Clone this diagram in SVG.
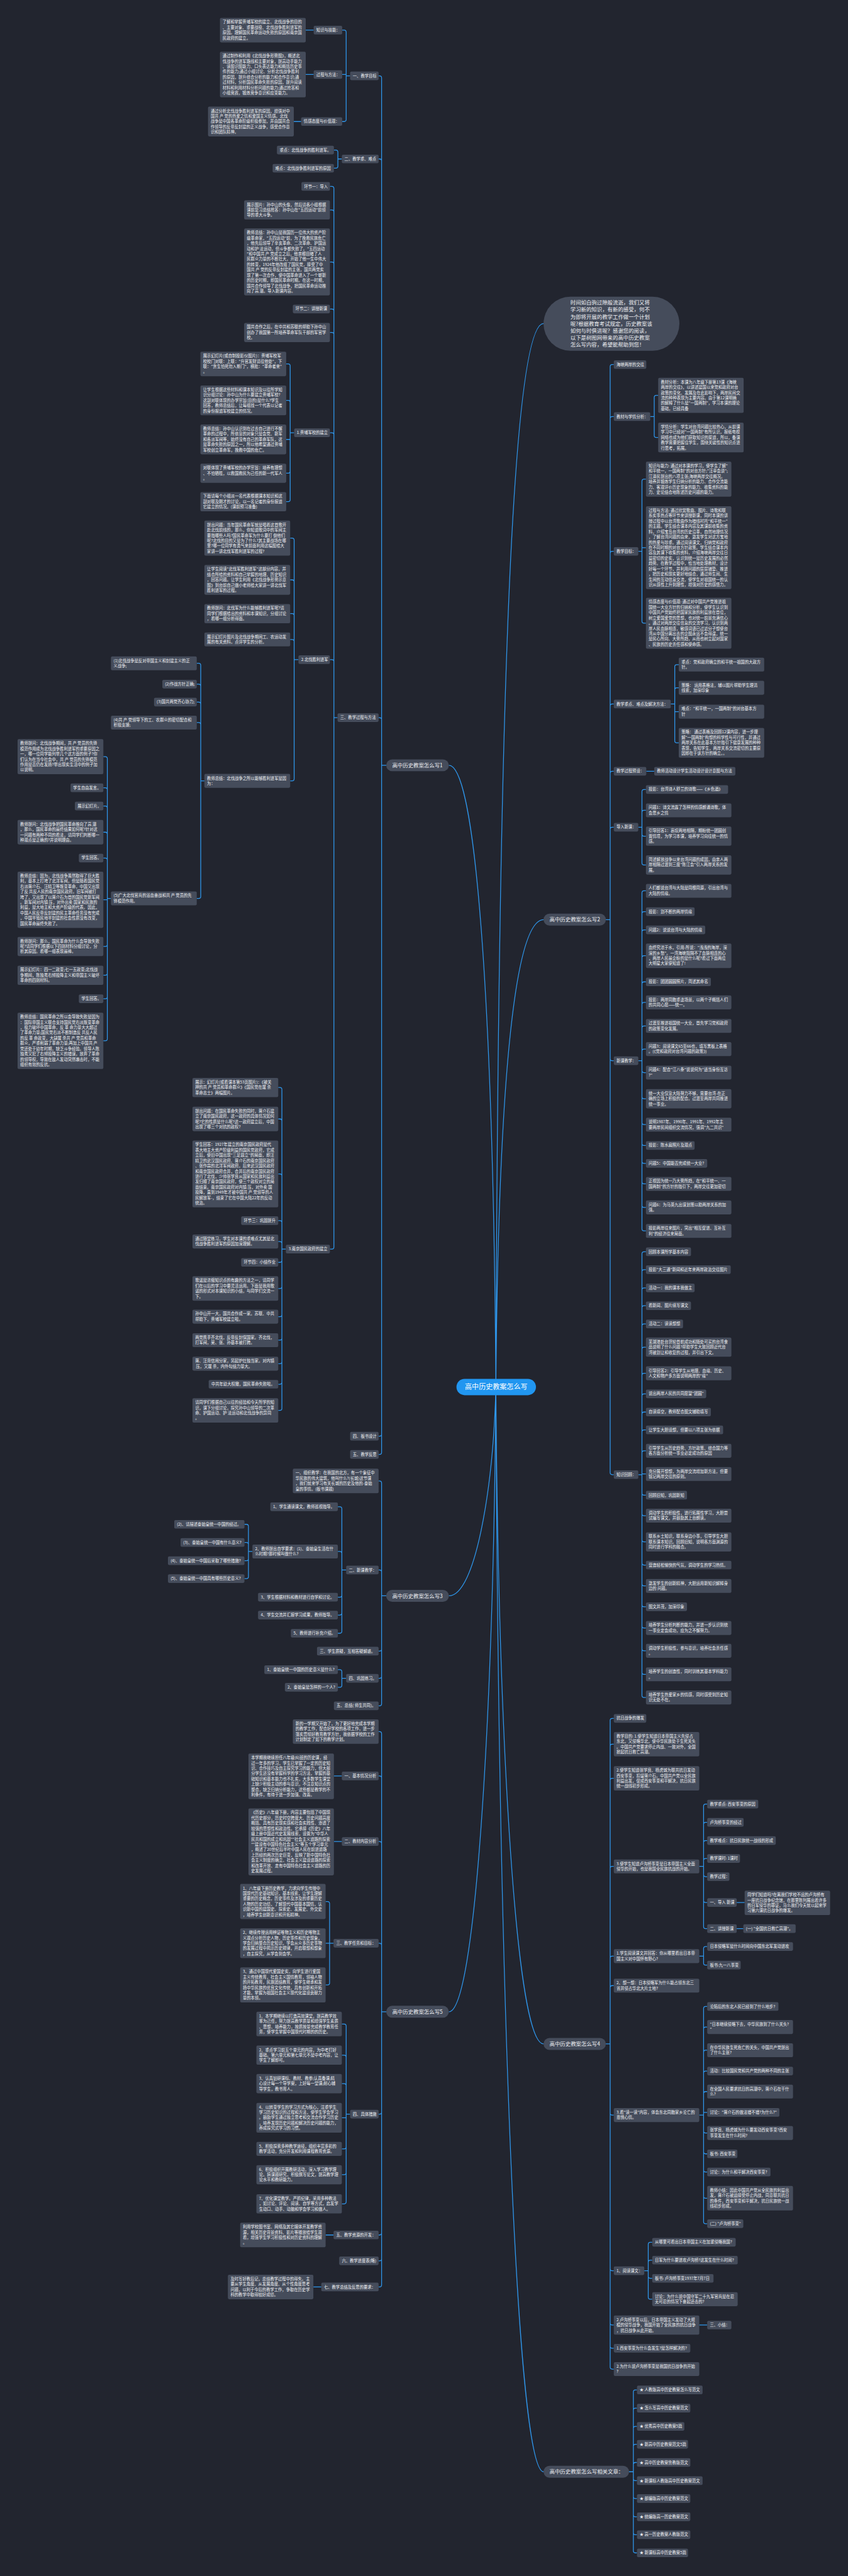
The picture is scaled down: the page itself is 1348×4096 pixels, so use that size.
<svg xmlns="http://www.w3.org/2000/svg" width="1348" height="4096" viewBox="0 0 1348 4096">
<style>
.b{fill:#454c5b}
.t{font-family:"Noto Sans CJK SC","Noto Sans",sans-serif;font-size:12px;fill:#f0f1f4}
.h{font-size:16px}
.e{fill:none;stroke:#2f97ec;stroke-width:2.4}
</style>
<rect x="0" y="0" width="1348" height="4096" fill="#22252f"/>
<g transform="scale(0.52656)">
<g id="connectors" class="e">
<path d="M1497 4189C1505 1800 1560 977 1641 977M1497 4189C1505 3200 1560 2777 1641 2777M1497 4189C1505 5300 1560 6172 1641 6172M1497 4189C1505 6000 1560 7464 1641 7464M1497 4189C1489 3000 1434 2311 1355 2311M1497 4189C1489 4500 1434 4819 1355 4819M1497 4189C1489 5200 1434 6075 1355 6075"/>
<path d="M1166 2311H1152M1152 2311V235Q1152 229 1146 229H1143M1152 2311V486Q1152 480 1146 480H1143M1152 2311V2173Q1152 2167 1146 2167H1143M1152 2311V4331Q1152 4337 1146 4337H1143M1152 2311V4386Q1152 4392 1146 4392H1143"/>
<path d="M1057 229H1045M1045 229V97Q1045 91 1039 91H1033M1045 229V225H1033M1045 229V361Q1045 367 1039 367H1033M947 91H923M947 225H923M909 367H887"/>
<path d="M1032 480H1020M1020 480V459Q1020 453 1014 453H1008M1020 480V502Q1020 508 1014 508H1008"/>
<path d="M1019 2167H1008M1008 2167V569Q1008 563 1002 563H996M1008 2167V640Q1008 634 1002 634H996M1008 2167V797Q1008 791 1002 791H996M1008 2167V939Q1008 933 1002 933H996M1008 2167V1010Q1008 1004 1002 1004H996M1008 2167V1313Q1008 1307 1002 1307H996M1008 2167V1998Q1008 1992 1002 1992H996M1008 2167V3766Q1008 3772 1002 3772H996"/>
<path d="M888 1307H876M876 1307V1105Q876 1099 870 1099H864M876 1307V1215Q876 1209 870 1209H864M876 1307V1327H864M876 1307V1423Q876 1429 870 1429H864M876 1307V1509Q876 1515 870 1515H864"/>
<path d="M901 1992H888M888 1992V1631Q888 1625 882 1625H876M888 1992V1757Q888 1751 882 1751H876M888 1992V1859Q888 1853 882 1853H876M888 1992V1937Q888 1931 882 1931H876M888 1992V2352Q888 2358 882 2358H876"/>
<path d="M617 2358H606M606 2358V2009Q606 2003 600 2003H594M606 2358V2072Q606 2066 600 2066H594M606 2358V2126Q606 2120 600 2120H594M606 2358V2188Q606 2182 600 2182H594M606 2358V2707Q606 2713 600 2713H594"/>
<path d="M335 2713H324M324 2713V2291Q324 2285 318 2285H312M324 2713V2385Q324 2379 318 2379H312M324 2713V2440Q324 2434 318 2434H312M324 2713V2519Q324 2513 318 2513H312M324 2713V2597Q324 2591 318 2591H312M324 2713V2717H312M324 2713V2852Q324 2858 318 2858H312M324 2713V2939Q324 2945 318 2945H312M324 2713V3010Q324 3016 318 3016H312M324 2713V3137Q324 3143 318 3143H312"/>
<path d="M863 3772H851M851 3772V3290Q851 3284 845 3284H840M851 3772V3385Q851 3379 845 3379H840M851 3772V3551Q851 3545 845 3545H840M851 3772V3692Q851 3686 845 3686H840M851 3772V3755Q851 3749 845 3749H840M851 3772V3806Q851 3812 845 3812H840M851 3772V3885Q851 3891 845 3891H840M851 3772V3970Q851 3976 845 3976H840M851 3772V4041Q851 4047 845 4047H840M851 3772V4112Q851 4118 845 4118H840M851 3772V4174Q851 4180 845 4180H840M851 3772V4253Q851 4259 845 4259H840"/>
<path d="M1166 4819H1152M1152 4819V4478Q1152 4472 1146 4472H1143M1152 4819V4747Q1152 4741 1146 4741H1143M1152 4819V4980Q1152 4986 1146 4986H1143M1152 4819V5062Q1152 5068 1146 5068H1143M1152 4819V5145Q1152 5151 1146 5151H1143"/>
<path d="M1045 4741H1032M1032 4741V4556Q1032 4550 1026 4550H1020M1032 4741V4691Q1032 4685 1026 4685H1020M1032 4741V4817Q1032 4823 1026 4823H1020M1032 4741V4871Q1032 4877 1026 4877H1020M1032 4741V4926Q1032 4932 1026 4932H1020"/>
<path d="M762 4685H750M750 4685V4609Q750 4603 744 4603H738M750 4685V4664Q750 4658 744 4658H738M750 4685V4707Q750 4713 744 4713H738M750 4685V4761Q750 4767 744 4767H738"/>
<path d="M1045 5068H1032M1032 5068V5048Q1032 5042 1026 5042H1020M1032 5068V5089Q1032 5095 1026 5095H1020"/>
<path d="M1166 6075H1152M1152 6075V5235Q1152 5229 1146 5229H1143M1152 6075V5369Q1152 5363 1146 5363H1143M1152 6075V5567Q1152 5561 1146 5561H1143M1152 6075V5874Q1152 5868 1146 5868H1143M1152 6075V6378Q1152 6384 1146 6384H1143M1152 6075V6743Q1152 6749 1146 6749H1143M1152 6075V6821Q1152 6827 1146 6827H1143M1152 6075V6900Q1152 6906 1146 6906H1143M1032 5363H1008M1032 5561H1008M1007 6749H983M970 6906H946"/>
<path d="M1007 5868H995M995 5868V5748Q995 5742 989 5742H983M995 5868H983M995 5868V5988Q995 5994 989 5994H983"/>
<path d="M1057 6384H1045M1045 6384V6118Q1045 6112 1039 6112H1032M1045 6384V6212Q1045 6206 1039 6206H1032M1045 6384V6298Q1045 6292 1039 6292H1032M1045 6384V6395H1032M1045 6384V6483Q1045 6489 1039 6489H1032M1045 6384V6561Q1045 6567 1039 6567H1032M1045 6384V6649Q1045 6655 1039 6655H1032"/>
<path d="M1829 2777H1842M1842 2777V1107Q1842 1101 1848 1101H1853M1842 2777V1264Q1842 1258 1848 1258H1853M1842 2777V1671Q1842 1665 1848 1665H1853M1842 2777V2132Q1842 2126 1848 2126H1853M1842 2777V2335Q1842 2329 1848 2329H1853M1842 2777V2504Q1842 2498 1848 2498H1853M1842 2777V3197Q1842 3203 1848 3203H1853M1842 2777V4447Q1842 4453 1848 4453H1853"/>
<path d="M1963 1258H1975M1975 1258V1200Q1975 1194 1981 1194H1987M1975 1258V1315Q1975 1321 1981 1321H1987"/>
<path d="M1927 1665H1938M1938 1665V1453Q1938 1447 1944 1447H1950M1938 1665V1654H1950M1938 1665V1876Q1938 1882 1944 1882H1950"/>
<path d="M2025 2126H2037M2037 2126V2013Q2037 2007 2043 2007H2049M2037 2126V2083Q2037 2077 2043 2077H2049M2037 2126V2149H2049M2037 2126V2237Q2037 2243 2043 2243H2049M1951 2329H1975"/>
<path d="M1927 2498H1938M1938 2498V2390Q1938 2384 1944 2384H1950M1938 2498V2453Q1938 2447 1944 2447H1950M1938 2498V2519Q1938 2525 1944 2525H1950M1938 2498V2606Q1938 2612 1944 2612H1950"/>
<path d="M1927 3203H1938M1938 3203V2696Q1938 2690 1944 2690H1950M1938 3203V2759Q1938 2753 1944 2753H1950M1938 3203V2814Q1938 2808 1944 2808H1950M1938 3203V2892Q1938 2886 1944 2886H1950M1938 3203V2971Q1938 2965 1944 2965H1950M1938 3203V3033Q1938 3027 1944 3027H1950M1938 3203V3104Q1938 3098 1944 3098H1950M1938 3203V3174Q1938 3168 1944 3168H1950M1938 3203V3233Q1938 3239 1944 3239H1950M1938 3203V3312Q1938 3318 1944 3318H1950M1938 3203V3390Q1938 3396 1944 3396H1950M1938 3203V3453Q1938 3459 1944 3459H1950M1938 3203V3507Q1938 3513 1944 3513H1950M1938 3203V3569Q1938 3575 1944 3575H1950M1938 3203V3640Q1938 3646 1944 3646H1950M1938 3203V3711Q1938 3717 1944 3717H1950"/>
<path d="M1927 4453H1938M1938 4453V3786Q1938 3780 1944 3780H1950M1938 4453V3840Q1938 3834 1944 3834H1950M1938 4453V3895Q1938 3889 1944 3889H1950M1938 4453V3949Q1938 3943 1944 3943H1950M1938 4453V4004Q1938 3998 1944 3998H1950M1938 4453V4074Q1938 4068 1944 4068H1950M1938 4453V4153Q1938 4147 1944 4147H1950M1938 4453V4215Q1938 4209 1944 4209H1950M1938 4453V4270Q1938 4264 1944 4264H1950M1938 4453V4324Q1938 4318 1944 4318H1950M1938 4453V4387Q1938 4381 1944 4381H1950M1938 4453V4451H1950M1938 4453V4509Q1938 4515 1944 4515H1950M1938 4453V4571Q1938 4577 1944 4577H1950M1938 4453V4650Q1938 4656 1944 4656H1950M1938 4453V4720Q1938 4726 1944 4726H1950M1938 4453V4783Q1938 4789 1944 4789H1950M1938 4453V4846Q1938 4852 1944 4852H1950M1938 4453V4910Q1938 4916 1944 4916H1950M1938 4453V4979Q1938 4985 1944 4985H1950M1938 4453V5050Q1938 5056 1944 5056H1950M1938 4453V5120Q1938 5126 1944 5126H1950"/>
<path d="M1829 6172H1842M1842 6172V5195Q1842 5189 1848 5189H1853M1842 6172V5273Q1842 5267 1848 5267H1853M1842 6172V5376Q1842 5370 1848 5370H1853M1842 6172V5642Q1842 5636 1848 5636H1853M1842 6172V5913Q1842 5907 1848 5907H1853M1842 6172V6002Q1842 5996 1848 5996H1853M1842 6172V6381Q1842 6387 1848 6387H1853M1842 6172V6851Q1842 6857 1848 6857H1853M1842 6172V7015Q1842 7021 1848 7021H1853M1842 6172V7085Q1842 7091 1848 7091H1853M1842 6172V7148Q1842 7154 1848 7154H1853"/>
<path d="M2111 5636H2124M2124 5636V5454Q2124 5448 2130 5448H2135M2124 5636V5509Q2124 5503 2130 5503H2135M2124 5636V5564Q2124 5558 2130 5558H2135M2124 5636V5618Q2124 5612 2130 5612H2135M2124 5636V5661Q2124 5667 2130 5667H2135M2124 5636V5739Q2124 5745 2130 5745H2135M2124 5636V5818Q2124 5824 2130 5824H2135M2224 5745H2248M2224 5824H2244"/>
<path d="M2111 5907H2124M2124 5907V5884Q2124 5878 2130 5878H2135M2124 5907V5928Q2124 5934 2130 5934H2135"/>
<path d="M2111 6387H2124M2124 6387V6065Q2124 6059 2130 6059H2135M2124 6387V6127Q2124 6121 2130 6121H2135M2124 6387V6197Q2124 6191 2130 6191H2135M2124 6387V6260Q2124 6254 2130 6254H2135M2124 6387V6322Q2124 6316 2130 6316H2135M2124 6387V6379H2135M2124 6387V6435Q2124 6441 2130 6441H2135M2124 6387V6498Q2124 6504 2130 6504H2135M2124 6387V6553Q2124 6559 2130 6559H2135M2124 6387V6632Q2124 6638 2130 6638H2135M2124 6387V6709Q2124 6715 2130 6715H2135"/>
<path d="M1945 6857H1957M1957 6857V6777Q1957 6771 1963 6771H1969M1957 6857V6831Q1957 6825 1963 6825H1969M1957 6857V6874Q1957 6880 1963 6880H1969M1957 6857V6937Q1957 6943 1963 6943H1969M2111 7021H2135"/>
<path d="M1899 7464H1912M1912 7464V7223Q1912 7217 1918 7217H1923M1912 7464V7278Q1912 7272 1918 7272H1923M1912 7464V7333Q1912 7327 1918 7327H1923M1912 7464V7387Q1912 7381 1918 7381H1923M1912 7464V7442Q1912 7436 1918 7436H1923M1912 7464V7485Q1912 7491 1918 7491H1923M1912 7464V7539Q1912 7545 1918 7545H1923M1912 7464V7594Q1912 7600 1918 7600H1923M1912 7464V7648Q1912 7654 1918 7654H1923M1912 7464V7703Q1912 7709 1918 7709H1923"/>
</g>

<g id="center"><rect x="1378" y="4164" width="240" height="49" rx="24.5" fill="#2196f0"/><text class="t" x="1498" y="4196" text-anchor="middle" fill="#ffffff" style="font-size:21px;fill:#ffffff">高中历史教案怎么写</text></g>

<g id="intro"><rect class="b" x="1641" y="896" width="410" height="163" rx="81"/><text class="t h" x="1722" y="920">时间如白驹过隙般流逝，我们又将<tspan x="1722" dy="21">学习新的知识，有新的感受，何不</tspan><tspan x="1722" dy="21">为即将开展的教学工作做一个计划</tspan><tspan x="1722" dy="21">呢?根据教育考试规定，历史教案该</tspan><tspan x="1722" dy="21">如何与时俱进呢？感谢您的阅读，</tspan><tspan x="1722" dy="21">以下是树图网带来的高中历史教案</tspan><tspan x="1722" dy="21">怎么写内容，希望能帮助到您！</tspan></text></g>

<!-- LEFT 1 -->
<g id="n-l1"><rect class="b" x="1166" y="2293" width="189" height="36" rx="18"/><text class="t h" x="1184" y="2317">高中历史教案怎么写1</text></g>
<g id="n-a1"><rect class="b" x="1057" y="216" width="86" height="26" rx="4"/><text class="t" x="1065" y="233">一、教学目标</text></g>
<g id="n-a1a"><rect class="b" x="947" y="78" width="86" height="26" rx="4"/><text class="t" x="955" y="95">知识与技能：</text></g>
<g id="n-a1a1"><rect class="b" x="664" y="54" width="259" height="74" rx="4"/><text class="t" x="672" y="71">了解和掌握黄埔军校的建立、北伐战争的目的<tspan x="672" dy="16">、主要对象、重要战役、北伐战争胜利进军的</tspan><tspan x="672" dy="16">原因。理解国民革命运动失败的原因和南京国</tspan><tspan x="672" dy="16">民政府的建立。</tspan></text></g>
<g id="n-a1b"><rect class="b" x="947" y="212" width="86" height="26" rx="4"/><text class="t" x="955" y="229">过程与方法：</text></g>
<g id="n-a1b1"><rect class="b" x="664" y="156" width="259" height="138" rx="4"/><text class="t" x="672" y="173">通过制作和利用《北伐战争形势图》，概述北<tspan x="672" dy="16">伐战争的进军路线和主要对象，提高动手能力</tspan><tspan x="672" dy="16">、读图识图能力、口头表达能力和概括历史事</tspan><tspan x="672" dy="16">件的能力;通过小组讨论、分析北伐战争胜利</tspan><tspan x="672" dy="16">的原因，提升综合分析的能力和合作意识;通</tspan><tspan x="672" dy="16">过材料，分析国民革命失败的原因，提升阅读</tspan><tspan x="672" dy="16">材料和利用材料分析问题的能力;通过抢答和</tspan><tspan x="672" dy="16">小组竞赛，锻炼竞争意识和应变能力。</tspan></text></g>
<g id="n-a1c"><rect class="b" x="909" y="354" width="124" height="26" rx="4"/><text class="t" x="917" y="371">情感态度与价值观：</text></g>
<g id="n-a1c1"><rect class="b" x="628" y="322" width="259" height="90" rx="4"/><text class="t" x="636" y="339">通过分析北伐战争胜利进军的原因，增强对中<tspan x="636" dy="16">国共 产 党的热爱之情和爱国主义情感。北伐</tspan><tspan x="636" dy="16">战争是中国各革命阶级积极参加，并由国共合</tspan><tspan x="636" dy="16">作领导的反帝反封建的正义战争，感受合作意</tspan><tspan x="636" dy="16">识和团队精神。</tspan></text></g>
<g id="n-a2"><rect class="b" x="1032" y="467" width="111" height="26" rx="4"/><text class="t" x="1040" y="484">二、教学重、难点</text></g>
<g id="n-a2a"><rect class="b" x="836" y="440" width="172" height="26" rx="4"/><text class="t" x="844" y="457">重点：北伐战争的胜利进军。</text></g>
<g id="n-a2b"><rect class="b" x="823" y="495" width="185" height="26" rx="4"/><text class="t" x="831" y="512">难点：北伐战争胜利进军的原因</text></g>
<g id="n-a3"><rect class="b" x="1019" y="2154" width="124" height="26" rx="4"/><text class="t" x="1027" y="2171">三、教学过程与方法</text></g>
<g id="n-a3a"><rect class="b" x="910" y="550" width="86" height="26" rx="4"/><text class="t" x="918" y="567">环节一：导入</text></g>
<g id="n-a3b"><rect class="b" x="737" y="605" width="259" height="58" rx="4"/><text class="t" x="745" y="622">展示图片：孙中山的头像，然后请各小组根据<tspan x="745" dy="16">课前复习总结抢答：孙中山在"五四运动"前领</tspan><tspan x="745" dy="16">导的重大斗争。</tspan></text></g>
<g id="n-a3c"><rect class="b" x="737" y="690" width="259" height="202" rx="4"/><text class="t" x="745" y="707">教师总结：孙中山是我国历一位伟大的资产阶<tspan x="745" dy="16">级革命家，"五四运动"前，为了挽救民族危亡</tspan><tspan x="745" dy="16">，他先后领导了辛亥革命、二次革命、护国运</tspan><tspan x="745" dy="16">动和护 法运动，但斗争都失败了。"五四运动</tspan><tspan x="745" dy="16">"和中国共 产 党成立之后，他亲眼目睹了人</tspan><tspan x="745" dy="16">民群众力量的不断壮大，开始了他一生中伟大</tspan><tspan x="745" dy="16">的转变，1924年他改组了国民党，接受了中</tspan><tspan x="745" dy="16">国共 产 党的反帝反封建的主张，国共两党实</tspan><tspan x="745" dy="16">现了第一次合作，使中国革命进入了一个崭新</tspan><tspan x="745" dy="16">的历史时期，即国民革命时期。在这一时期，</tspan><tspan x="745" dy="16">国共合作领导了北伐战争，把国民革命运动推</tspan><tspan x="745" dy="16">向了高 潮。导入新课内容。</tspan></text></g>
<g id="n-a3d"><rect class="b" x="884" y="920" width="112" height="26" rx="4"/><text class="t" x="892" y="937">环节二：讲授新课</text></g>
<g id="n-a3e"><rect class="b" x="737" y="975" width="259" height="58" rx="4"/><text class="t" x="745" y="992">国共合作之后，在中共和苏联的帮助下孙中山<tspan x="745" dy="16">创办了我国第一所培养革命军队干部的军官学</tspan><tspan x="745" dy="16">校。</tspan></text></g>
<g id="n-a3f"><rect class="b" x="888" y="1294" width="108" height="26" rx="4"/><text class="t" x="896" y="1311">1.黄埔军校的建立</text></g>
<g id="n-f1"><rect class="b" x="605" y="1062" width="259" height="74" rx="4"/><text class="t" x="613" y="1079">展示幻灯片(或自制投影仪图片)：黄埔军校军<tspan x="613" dy="16">校校门对联：上联："升官发财请往他处"，下</tspan><tspan x="613" dy="16">联："贪生怕死勿入斯门"，横批："革命者来"</tspan><tspan x="613" dy="16">。</tspan></text></g>
<g id="n-f2"><rect class="b" x="605" y="1164" width="259" height="90" rx="4"/><text class="t" x="613" y="1181">让学生根据这些材料和课本知识及以往所学知<tspan x="613" dy="16">识分组讨论：孙中山为什么要建立黄埔军校?</tspan><tspan x="613" dy="16">这副对联体现的办学宗旨(目的)是什么?学生</tspan><tspan x="613" dy="16">回答，教师总结后，让每组找一个代表以记者</tspan><tspan x="613" dy="16">的身份报道军校建立的情况。</tspan></text></g>
<g id="n-f3"><rect class="b" x="605" y="1282" width="259" height="90" rx="4"/><text class="t" x="613" y="1299">教师总结：孙中山认识到在过去自己进行不懈<tspan x="613" dy="16">革命的过程中，所依靠的对象只是会党、新军</tspan><tspan x="613" dy="16">和各派军阀等，始终没有自己的革命军队，这</tspan><tspan x="613" dy="16">是革命失败的原因之一，所以他希望通过黄埔</tspan><tspan x="613" dy="16">军校创立革命军，挽救中国的危亡。</tspan></text></g>
<g id="n-f4"><rect class="b" x="605" y="1400" width="259" height="58" rx="4"/><text class="t" x="613" y="1417">对联体现了黄埔军校的办学宗旨：培养有理想<tspan x="613" dy="16">、不怕牺牲，以救国救民为己任的新一代军人</tspan><tspan x="613" dy="16">。</tspan></text></g>
<g id="n-f5"><rect class="b" x="605" y="1486" width="259" height="58" rx="4"/><text class="t" x="613" y="1503">下面请每个小组派一名代表根据课本知识和这<tspan x="613" dy="16">副对联及刚才的讨论，以一名记者的身份报道</tspan><tspan x="613" dy="16">它建立的情况。(课前预习准备)</tspan></text></g>
<g id="n-a3g"><rect class="b" x="901" y="1979" width="95" height="26" rx="4"/><text class="t" x="909" y="1996">2.北伐胜利进军</text></g>
<g id="n-g1"><rect class="b" x="617" y="1572" width="259" height="106" rx="4"/><text class="t" x="625" y="1589">提出问题：当年国民革命军就是唱着这首歌开<tspan x="625" dy="16">赴北伐前线的，那么，你知道歌词中的军阀主</tspan><tspan x="625" dy="16">要指哪些人吗?国民革命军为什么要打 倒他们</tspan><tspan x="625" dy="16">呢?北伐的目的又是为了什么?其主要战场在哪</tspan><tspan x="625" dy="16">里?哪一位同学有勇气来前面利用这幅图给大</tspan><tspan x="625" dy="16">家讲一讲北伐军胜利进军的过程?</tspan></text></g>
<g id="n-g2"><rect class="b" x="617" y="1706" width="259" height="90" rx="4"/><text class="t" x="625" y="1723">让学生阅读"北伐军胜利进军"这部分内容，并<tspan x="625" dy="16">结合所给的资料和自己掌握的地理、历史知识</tspan><tspan x="625" dy="16">，回答问题。让学生利用《北伐战争形势示意</tspan><tspan x="625" dy="16">图》到台前自己做小老师给大家讲一讲北伐军</tspan><tspan x="625" dy="16">胜利进军的过程。</tspan></text></g>
<g id="n-g3"><rect class="b" x="617" y="1824" width="259" height="58" rx="4"/><text class="t" x="625" y="1841">教师提问：北伐军为什么能够胜利进军呢?请<tspan x="625" dy="16">同学们根据给出的资料和本课知识，分组讨论</tspan><tspan x="625" dy="16">，看哪一组分析得面。</tspan></text></g>
<g id="n-g4"><rect class="b" x="617" y="1910" width="259" height="42" rx="4"/><text class="t" x="625" y="1927">展示幻灯片图片及北伐战争期间工、农运动发<tspan x="625" dy="16">展的有关资料。点评学生的分析。</tspan></text></g>
<g id="n-g5"><rect class="b" x="617" y="2337" width="259" height="42" rx="4"/><text class="t" x="625" y="2354">教师总结：北伐战争之所以能够胜利进军是因<tspan x="625" dy="16">为：</tspan></text></g>
<g id="n-h1"><rect class="b" x="335" y="1982" width="259" height="42" rx="4"/><text class="t" x="343" y="1999">(1)北伐战争是反对帝国主义和封建主义的正<tspan x="343" dy="16">义战争;</tspan></text></g>
<g id="n-h2"><rect class="b" x="490" y="2053" width="104" height="26" rx="4"/><text class="t" x="498" y="2070">(2)作战方针正确;</text></g>
<g id="n-h3"><rect class="b" x="465" y="2107" width="129" height="26" rx="4"/><text class="t" x="473" y="2124">(3)国共两党齐心协力;</text></g>
<g id="n-h4"><rect class="b" x="335" y="2161" width="259" height="42" rx="4"/><text class="t" x="343" y="2178">(4)共 产 党领导下的工、农群众的密切配合和<tspan x="343" dy="16">积极支援;</tspan></text></g>
<g id="n-h5"><rect class="b" x="335" y="2692" width="259" height="42" rx="4"/><text class="t" x="343" y="2709">(5)广大北伐官兵的浴血奋战和共 产 党员的先<tspan x="343" dy="16">锋模范作用。</tspan></text></g>
<g id="n-i1"><rect class="b" x="53" y="2232" width="259" height="106" rx="4"/><text class="t" x="61" y="2249">教师提问：北伐战争期间，共 产 党员的先锋<tspan x="61" dy="16">模范作用成为北伐战争胜利进军的重要原因之</tspan><tspan x="61" dy="16">一，哪一位同学能列举几个这方面的例子?你</tspan><tspan x="61" dy="16">们认为在当今社会中，共 产 党员的先锋模范</tspan><tspan x="61" dy="16">作用是否仍在发扬?举出现实生活中的例子加</tspan><tspan x="61" dy="16">以说明。</tspan></text></g>
<g id="n-i2"><rect class="b" x="213" y="2366" width="99" height="26" rx="4"/><text class="t" x="221" y="2383">学生自由发言。</text></g>
<g id="n-i3"><rect class="b" x="226" y="2421" width="86" height="26" rx="4"/><text class="t" x="234" y="2438">展示幻灯片。</text></g>
<g id="n-i4"><rect class="b" x="53" y="2476" width="259" height="74" rx="4"/><text class="t" x="61" y="2493">教师提问：北伐战争把国民革命推向了高 潮<tspan x="61" dy="16">，那么，国民革命的最终结果如何呢?针对这</tspan><tspan x="61" dy="16">一问题有两种不同的看法，请同学们判断哪一</tspan><tspan x="61" dy="16">种观点是正确的?并说明理由。</tspan></text></g>
<g id="n-i5"><rect class="b" x="238" y="2578" width="74" height="26" rx="4"/><text class="t" x="246" y="2595">学生回答。</text></g>
<g id="n-i6"><rect class="b" x="53" y="2632" width="259" height="170" rx="4"/><text class="t" x="61" y="2649">教师总结：因为，北伐战争虽然取得了巨大胜<tspan x="61" dy="16">利，基本上打垮了北洋军阀，但是随着国民党</tspan><tspan x="61" dy="16">右派蒋介石、汪精卫等叛变革命，中国又出现</tspan><tspan x="61" dy="16">了反 共反人民的南京国民政府。旧军阀被打</tspan><tspan x="61" dy="16">垮了，又出现了以蒋介石为首的国民党新军阀</tspan><tspan x="61" dy="16">。新军阀对内镇 压，对外出卖 国家和民族的</tspan><tspan x="61" dy="16">利益，是大地主和大资产阶级的代表。因此，</tspan><tspan x="61" dy="16">中国人民反帝反封建的民主革命任务没有完成</tspan><tspan x="61" dy="16">，中国半殖民地半封建的社会性质没有改变，</tspan><tspan x="61" dy="16">国民革命最终失败了。</tspan></text></g>
<g id="n-i7"><rect class="b" x="53" y="2829" width="259" height="58" rx="4"/><text class="t" x="61" y="2846">教师提问：那么，国民革命为什么会导致失败<tspan x="61" dy="16">呢?请同学们根据以下四则材料分组讨论，分</tspan><tspan x="61" dy="16">析其原因。看哪一组表现最棒。</tspan></text></g>
<g id="n-i8"><rect class="b" x="53" y="2916" width="259" height="58" rx="4"/><text class="t" x="61" y="2933">展示幻灯片：四一二政变;七一五政变;北伐战<tspan x="61" dy="16">争期间，陈独秀右倾投降主义和帝国主义破坏</tspan><tspan x="61" dy="16">革命的四则材料。</tspan></text></g>
<g id="n-i9"><rect class="b" x="238" y="3003" width="74" height="26" rx="4"/><text class="t" x="246" y="3020">学生回答。</text></g>
<g id="n-i10"><rect class="b" x="53" y="3058" width="259" height="170" rx="4"/><text class="t" x="61" y="3075">教师总结：国民革命之所以会导致失败是因为<tspan x="61" dy="16">：国际帝国主义联合支持国民党右派叛变革命</tspan><tspan x="61" dy="16">，极力破坏中国革命，反 革 命力量大大超过</tspan><tspan x="61" dy="16">了革命力量;国民党右派不断制造反 共反人民</tspan><tspan x="61" dy="16">的反 革 命政变，大肆屠 杀共 产 党员和革命</tspan><tspan x="61" dy="16">群众，严重削弱了革命力量;再加上中国共 产</tspan><tspan x="61" dy="16">党还处于幼年时期，缺乏斗争经验。领导人陈</tspan><tspan x="61" dy="16">独秀又犯了右倾投降主义的错误，放弃了革命</tspan><tspan x="61" dy="16">的领导权，导致在敌人发动突然袭击时，不能</tspan><tspan x="61" dy="16">组织有效的反抗。</tspan></text></g>
<g id="n-a3h"><rect class="b" x="863" y="3759" width="133" height="26" rx="4"/><text class="t" x="871" y="3776">3.南京国民政府的建立</text></g>
<g id="n-j1"><rect class="b" x="581" y="3255" width="259" height="58" rx="4"/><text class="t" x="589" y="3272">展示：幻灯片(或看课本第53页图片)：《被关<tspan x="589" dy="16">押的共 产 党员和革命群众》《国民党在屠 杀</tspan><tspan x="589" dy="16">革命志士》两幅图片。</tspan></text></g>
<g id="n-j2"><rect class="b" x="581" y="3342" width="259" height="74" rx="4"/><text class="t" x="589" y="3359">提出问题：在国民革命失败的同时，蒋介石建<tspan x="589" dy="16">立了南京国民政府，这一政府的具体情况如何</tspan><tspan x="589" dy="16">呢?它的性质是什么呢?这一政府建立后，中国</tspan><tspan x="589" dy="16">出现了哪三个对抗的政权?</tspan></text></g>
<g id="n-j3"><rect class="b" x="581" y="3444" width="259" height="202" rx="4"/><text class="t" x="589" y="3461">学生回答：1927年建立的南京国民政府是代<tspan x="589" dy="16">表大地主大资产阶级利益的国民党政府，它成</tspan><tspan x="589" dy="16">立后，使旧中国出现"三足鼎立"的局面，即汪</tspan><tspan x="589" dy="16">精卫的武汉国民政府、蒋介石的南京国民政府</tspan><tspan x="589" dy="16">、张作霖的北洋军阀政府。后来武汉国民政府</tspan><tspan x="589" dy="16">和南京国民政府合并，合并后的南京国民政府</tspan><tspan x="589" dy="16">进行了北伐，少帅张学良从国家和民族利益出</tspan><tspan x="589" dy="16">发归顺了南京国民政府，使三个政权对立的局</tspan><tspan x="589" dy="16">面结束。南京国民政府对内镇 压，对外卖 国</tspan><tspan x="589" dy="16">投降，直到1949年才被中国共 产 党领导的人</tspan><tspan x="589" dy="16">民解放军-，结束了它在中国大陆22年的反动</tspan><tspan x="589" dy="16">统治。</tspan></text></g>
<g id="n-j4"><rect class="b" x="728" y="3673" width="112" height="26" rx="4"/><text class="t" x="736" y="3690">环节三：巩固提升</text></g>
<g id="n-j5"><rect class="b" x="581" y="3728" width="259" height="42" rx="4"/><text class="t" x="589" y="3745">通过随堂练习，学生对本课的重难点尤其是北<tspan x="589" dy="16">伐战争胜利进军的原因加深理解。</tspan></text></g>
<g id="n-j6"><rect class="b" x="728" y="3799" width="112" height="26" rx="4"/><text class="t" x="736" y="3816">环节四：小结作业</text></g>
<g id="n-j7"><rect class="b" x="581" y="3854" width="259" height="74" rx="4"/><text class="t" x="589" y="3871">歌谣是浓缩知识点的有趣的方法之一，请同学<tspan x="589" dy="16">们在以后的学习中要灵活运用。下面是我用歌</tspan><tspan x="589" dy="16">谣的形式对本课知识的小结，与同学们交流一</tspan><tspan x="589" dy="16">下。</tspan></text></g>
<g id="n-j8"><rect class="b" x="581" y="3955" width="259" height="42" rx="4"/><text class="t" x="589" y="3972">孙中山开一大，国共合作成一家。苏联、中共<tspan x="589" dy="16">帮助下，黄埔军校建立啦。</tspan></text></g>
<g id="n-j9"><rect class="b" x="581" y="4026" width="259" height="42" rx="4"/><text class="t" x="589" y="4043">两党携手齐北伐，反帝反封保国家。齐北伐，<tspan x="589" dy="16">打军阀，吴、张、孙基本被打跨。</tspan></text></g>
<g id="n-j10"><rect class="b" x="581" y="4097" width="259" height="42" rx="4"/><text class="t" x="589" y="4114">蒋、汪背信闹分家，另起炉灶独当家。对内镇<tspan x="589" dy="16"> 压，又屠 杀，内外勾结力量大。</tspan></text></g>
<g id="n-j11"><rect class="b" x="630" y="4167" width="210" height="26" rx="4"/><text class="t" x="638" y="4184">中共年幼大权撤，国民革命失败啦。</text></g>
<g id="n-j12"><rect class="b" x="581" y="4222" width="259" height="74" rx="4"/><text class="t" x="589" y="4239">请同学们根据自己以往的经验和今天所学的知<tspan x="589" dy="16">识，课下分组讨论，探究孙中山领导的二次革</tspan><tspan x="589" dy="16">命、护国运动、护 法运动和北伐战争的异同</tspan><tspan x="589" dy="16">。</tspan></text></g>
<g id="n-a4"><rect class="b" x="1057" y="4324" width="86" height="26" rx="4"/><text class="t" x="1065" y="4341">四、板书设计</text></g>
<g id="n-a5"><rect class="b" x="1057" y="4379" width="86" height="26" rx="4"/><text class="t" x="1065" y="4396">五、教学反思</text></g>

<!-- LEFT 3 -->
<g id="n-l3"><rect class="b" x="1166" y="4801" width="189" height="36" rx="18"/><text class="t h" x="1184" y="4825">高中历史教案怎么写3</text></g>
<g id="n-b1"><rect class="b" x="884" y="4435" width="259" height="74" rx="4"/><text class="t" x="892" y="4452">一、组织教学：在我国的北方，有一个象征中<tspan x="892" dy="16">华民族的伟大建筑，他叫什么?(长城)这节课</tspan><tspan x="892" dy="16">，我们就来学习有关长城的历史及他的-秦始</tspan><tspan x="892" dy="16">皇的事情。(板书课题)</tspan></text></g>
<g id="n-b2"><rect class="b" x="1045" y="4728" width="98" height="26" rx="4"/><text class="t" x="1053" y="4745">二、新课教学：</text></g>
<g id="n-b2a"><rect class="b" x="816" y="4537" width="204" height="26" rx="4"/><text class="t" x="824" y="4554">1、学生通读课文，教师巡视指导。</text></g>
<g id="n-b2b"><rect class="b" x="762" y="4664" width="258" height="42" rx="4"/><text class="t" x="770" y="4681">2、教师提出自学要求：(1)、秦始皇生活在什<tspan x="770" dy="16">么时期?那时候叫做什么?</tspan></text></g>
<g id="n-c1"><rect class="b" x="526" y="4590" width="212" height="26" rx="4"/><text class="t" x="534" y="4607">(2)、请描述秦始皇统一中国的经过。</text></g>
<g id="n-c2"><rect class="b" x="545" y="4645" width="193" height="26" rx="4"/><text class="t" x="553" y="4662">(3)、秦始皇统一中国有什么意义?</text></g>
<g id="n-c3"><rect class="b" x="507" y="4700" width="231" height="26" rx="4"/><text class="t" x="515" y="4717">(4)、秦始皇统一中国后采取了哪些措施?</text></g>
<g id="n-c4"><rect class="b" x="507" y="4754" width="231" height="26" rx="4"/><text class="t" x="515" y="4771">(5)、秦始皇统一中国具有哪些历史意义?</text></g>
<g id="n-b2c"><rect class="b" x="779" y="4810" width="241" height="26" rx="4"/><text class="t" x="787" y="4827">3、学生根据材料和教材进行自学和讨论。</text></g>
<g id="n-b2d"><rect class="b" x="779" y="4864" width="241" height="26" rx="4"/><text class="t" x="787" y="4881">4、学生交流并汇报学习成果，教师指导。</text></g>
<g id="n-b2e"><rect class="b" x="878" y="4919" width="142" height="26" rx="4"/><text class="t" x="886" y="4936">5、教师进行补充介绍。</text></g>
<g id="n-b3"><rect class="b" x="957" y="4973" width="186" height="26" rx="4"/><text class="t" x="965" y="4990">三、学生质疑，互相答疑解惑。</text></g>
<g id="n-b4"><rect class="b" x="1045" y="5055" width="98" height="26" rx="4"/><text class="t" x="1053" y="5072">四、巩固练习。</text></g>
<g id="n-d1"><rect class="b" x="798" y="5029" width="222" height="26" rx="4"/><text class="t" x="806" y="5046">1、秦始皇统一中国的历史意义是什么?</text></g>
<g id="n-d2"><rect class="b" x="860" y="5082" width="160" height="26" rx="4"/><text class="t" x="868" y="5099">2、秦始皇是怎样的一个人?</text></g>
<g id="n-b5"><rect class="b" x="1008" y="5138" width="135" height="26" rx="4"/><text class="t" x="1016" y="5155">五、总结( 师生共同)。</text></g>

<!-- LEFT 5 -->
<g id="n-l5"><rect class="b" x="1166" y="6057" width="189" height="36" rx="18"/><text class="t h" x="1184" y="6081">高中历史教案怎么写5</text></g>
<g id="n-k1"><rect class="b" x="884" y="5192" width="259" height="74" rx="4"/><text class="t" x="892" y="5209">新的一学期又开始了，为了更好地完成本学期<tspan x="892" dy="16">的教学工作，配合好学校的各项工作，进一步</tspan><tspan x="892" dy="16">落实贯彻好教育教学方针，我依据学校的工作</tspan><tspan x="892" dy="16">计划制定了如下的教学计划。</tspan></text></g>
<g id="n-k2"><rect class="b" x="1032" y="5350" width="111" height="26" rx="4"/><text class="t" x="1040" y="5367">一、基本情况分析</text></g>
<g id="n-k2a"><rect class="b" x="750" y="5295" width="258" height="138" rx="4"/><text class="t" x="758" y="5312">本学期我继续担任八年级(6)班的历史课，经<tspan x="758" dy="16">过一年多的学习，学生已掌握了一定的历史知</tspan><tspan x="758" dy="16">识、合作技巧及自主探究学习的能力，但大部</tspan><tspan x="758" dy="16">分学生还没有掌握科学的学习方法，掌握的基</tspan><tspan x="758" dy="16">础知识和基本能力也不扎实，大多数学生课堂</tspan><tspan x="758" dy="16">上缺少积极主动的参与意识，不注意知识点的</tspan><tspan x="758" dy="16">整合，缺乏归纳分析能力，这些都是教学的不</tspan><tspan x="758" dy="16">利条件，有待于进一步加强、改善。</tspan></text></g>
<g id="n-k3"><rect class="b" x="1032" y="5548" width="111" height="26" rx="4"/><text class="t" x="1040" y="5565">二、教材内容分析</text></g>
<g id="n-k3a"><rect class="b" x="750" y="5461" width="258" height="202" rx="4"/><text class="t" x="758" y="5478">《历史》八年级下册，内容主要包括了中国现<tspan x="758" dy="16">代历史部分，历史时空跨度大、历史问题高度</tspan><tspan x="758" dy="16">概括、具有历史现实感和社会实践性、渗透了</tspan><tspan x="758" dy="16">较强的思想性和政治性。它承接《历史》八年</tspan><tspan x="758" dy="16">级上册中国近代史发展线索，设置为"中华人</tspan><tspan x="758" dy="16">民共和国的成立和巩固""社会主义道路的探索</tspan><tspan x="758" dy="16">""建设有中国特色社会主义"等五个学习单元</tspan><tspan x="758" dy="16">，概述了20世纪后半叶中国人民在前进道路</tspan><tspan x="758" dy="16">上历经的两次历史巨变，反映了新中国特色社</tspan><tspan x="758" dy="16">会主义制度的确立、社会主义建设道路的探索</tspan><tspan x="758" dy="16">和改革开放、走有中国特色社会主义道路的历</tspan><tspan x="758" dy="16">史发展过程。</tspan></text></g>
<g id="n-k4"><rect class="b" x="1007" y="5855" width="136" height="26" rx="4"/><text class="t" x="1015" y="5872">三、教学任务和目标：</text></g>
<g id="n-k4a"><rect class="b" x="725" y="5689" width="258" height="106" rx="4"/><text class="t" x="733" y="5706">1、八年级下册历史教学，力求向学生传授中<tspan x="733" dy="16">国现代历史基础知识，基本线索，让学生理解</tspan><tspan x="733" dy="16">重要的历史概念，历史事件及涉及的重要历史</tspan><tspan x="733" dy="16">人物的历史功绩，了解现代中国基本国情，认</tspan><tspan x="733" dy="16">识新中国的建国史、探索史、发展史、外交史</tspan><tspan x="733" dy="16">，培养学生创新意识和开拓精神。</tspan></text></g>
<g id="n-k4b"><rect class="b" x="725" y="5823" width="258" height="90" rx="4"/><text class="t" x="733" y="5840">2、继续传授运用辨证唯物主义和历史唯物主<tspan x="733" dy="16">义观点分析历史人物，历史事件和历史现象，</tspan><tspan x="733" dy="16">学会归纳整合历史知识，学会从众多历史事物</tspan><tspan x="733" dy="16">的发展过程中揭示历史规律，开启联想和想象</tspan><tspan x="733" dy="16">，自主探究，从学会到会学。</tspan></text></g>
<g id="n-k4c"><rect class="b" x="725" y="5941" width="258" height="106" rx="4"/><text class="t" x="733" y="5958">3、通过中国现代爱国史实，向学生进行爱国<tspan x="733" dy="16">主义传统教育，社会主义国情教育，领袖人物</tspan><tspan x="733" dy="16">的开拓教育，民族团结教育，使学生继承和发</tspan><tspan x="733" dy="16">扬中华民族的优良文化传统，具有创新和开拓</tspan><tspan x="733" dy="16">才能，掌握为祖国社会主义现代化建设贡献力</tspan><tspan x="733" dy="16">量的本领。</tspan></text></g>
<g id="n-k5"><rect class="b" x="1057" y="6371" width="86" height="26" rx="4"/><text class="t" x="1065" y="6388">四、具体措施</text></g>
<g id="n-k5a"><rect class="b" x="774" y="6075" width="258" height="74" rx="4"/><text class="t" x="782" y="6092">1、本学期继续以打造高效课堂，提高教学效<tspan x="782" dy="16">率为己任，努力提高教学质量和增强学生素质</tspan><tspan x="782" dy="16">、思想、培养能力，按质按量完成教学教育任</tspan><tspan x="782" dy="16">务，使学生掌握中国现代时期的的历史。</tspan></text></g>
<g id="n-k5b"><rect class="b" x="774" y="6177" width="258" height="58" rx="4"/><text class="t" x="782" y="6194">2、重点学习前五个单元的内容，为中考打好<tspan x="782" dy="16">基础。第六单元和第七单元不是中考内容，让</tspan><tspan x="782" dy="16">学生了解即可。</tspan></text></g>
<g id="n-k5c"><rect class="b" x="774" y="6263" width="258" height="58" rx="4"/><text class="t" x="782" y="6280">3、认真钻研课标、教材、教参;认真备课;精<tspan x="782" dy="16">心设计每一个导学案，上好每一堂课;耐心辅</tspan><tspan x="782" dy="16">导学生，教书育人。</tspan></text></g>
<g id="n-k5d"><rect class="b" x="774" y="6350" width="258" height="90" rx="4"/><text class="t" x="782" y="6367">4、以转变学生的学习方式为核心，注重学生<tspan x="782" dy="16">学习历史知识的过程和方法，使学生学会学习</tspan><tspan x="782" dy="16">。鼓励学生通过独立思考和交流合作学习历史</tspan><tspan x="782" dy="16">，培养发现历史问题和解决历史问题的能力，</tspan><tspan x="782" dy="16">养成探究式学习的习惯。</tspan></text></g>
<g id="n-k5e"><rect class="b" x="774" y="6468" width="258" height="42" rx="4"/><text class="t" x="782" y="6485">5、积极探索多种教学途径，组织丰富多彩的<tspan x="782" dy="16">教学活动，充分开发和利用课程教育资源。</tspan></text></g>
<g id="n-k5f"><rect class="b" x="774" y="6538" width="258" height="58" rx="4"/><text class="t" x="782" y="6555">6、积极组织开展教研活动，深入学习教学理<tspan x="782" dy="16">论。搞课题研究，积极撰写论文，提高教学理</tspan><tspan x="782" dy="16">论水平和教研能力。</tspan></text></g>
<g id="n-k5g"><rect class="b" x="774" y="6626" width="258" height="58" rx="4"/><text class="t" x="782" y="6643">7、优化课堂教学。严抓纪律，采用多种教法<tspan x="782" dy="16">，如讨论、评论、阅读、自学等方式，启发学</tspan><tspan x="782" dy="16">生动口、动手、动脑和学会学习和做人。</tspan></text></g>
<g id="n-k6"><rect class="b" x="1007" y="6736" width="136" height="26" rx="4"/><text class="t" x="1015" y="6753">五、教学资源的开发：</text></g>
<g id="n-k6a"><rect class="b" x="725" y="6712" width="258" height="74" rx="4"/><text class="t" x="733" y="6729">利用学校图书室、网络及其它媒体开发教学资<tspan x="733" dy="16">源，相关历史背景资料、影片等播放给学生观</tspan><tspan x="733" dy="16">看，增强学生学习积极性和对历史资料的理解</tspan><tspan x="733" dy="16">。</tspan></text></g>
<g id="n-k7"><rect class="b" x="1024" y="6814" width="119" height="26" rx="4"/><text class="t" x="1032" y="6831">六、教学进度表(略)</text></g>
<g id="n-k8"><rect class="b" x="970" y="6893" width="173" height="26" rx="4"/><text class="t" x="978" y="6910">七、教学总结及反思的要求：</text></g>
<g id="n-k8a"><rect class="b" x="688" y="6869" width="258" height="74" rx="4"/><text class="t" x="696" y="6886">及时写好教后记，总结教学过程中的得失。主<tspan x="696" dy="16">要从学生角度、从发展角度、从个性角度思考</tspan><tspan x="696" dy="16">问题，以利于今后的教学工作，争取在历史学</tspan><tspan x="696" dy="16">科的教学中取得较好成绩。</tspan></text></g>

<!-- RIGHT 2 -->
<g id="n-r2"><rect class="b" x="1641" y="2759" width="188" height="36" rx="18"/><text class="t h" x="1659" y="2783">高中历史教案怎么写2</text></g>
<g id="n-d1x"><rect class="b" x="1853" y="1088" width="98" height="26" rx="4"/><text class="t" x="1861" y="1105">海峡两岸的交往</text></g>
<g id="n-d2x"><rect class="b" x="1853" y="1245" width="110" height="26" rx="4"/><text class="t" x="1861" y="1262">教材与学情分析：</text></g>
<g id="n-d2a"><rect class="b" x="1987" y="1141" width="258" height="106" rx="4"/><text class="t" x="1995" y="1158">教材分析：本课为八年级下册第13课《海峡<tspan x="1995" dy="16">两岸的交往》，以讲述建国以来党和政府对台</tspan><tspan x="1995" dy="16">政策的变化、发展及在此影响下，两岸民间交</tspan><tspan x="1995" dy="16">流的种种表现为主要内容。由于第12课明确</tspan><tspan x="1995" dy="16">的解释了什么是"一国两制"，学习本课的理论</tspan><tspan x="1995" dy="16">基础，已经具备</tspan></text></g>
<g id="n-d2b"><rect class="b" x="1987" y="1276" width="258" height="90" rx="4"/><text class="t" x="1995" y="1293">学情分析：学生对台湾问题比较热心，从前课<tspan x="1995" dy="16">学习中已经对"一国两制"有所认识，报纸电视</tspan><tspan x="1995" dy="16">网络也成为他们获取知识的渠道，所以，备课</tspan><tspan x="1995" dy="16">教学需要把握住学生，围绕关键性的知识点进</tspan><tspan x="1995" dy="16">行思考，拓展。</tspan></text></g>
<g id="n-d3x"><rect class="b" x="1853" y="1652" width="74" height="26" rx="4"/><text class="t" x="1861" y="1669">教学目标：</text></g>
<g id="n-d3a"><rect class="b" x="1950" y="1394" width="258" height="106" rx="4"/><text class="t" x="1958" y="1411">知识与能力: 通过对本课的学习，使学生了解"<tspan x="1958" dy="16">和平统一，一国两制"的对台方针;"汪辜会谈";</tspan><tspan x="1958" dy="16">江泽民提出的八项主张;海峡两岸交往概况。</tspan><tspan x="1958" dy="16">培养并锻炼学生归纳分析的能力、合作交流能</tspan><tspan x="1958" dy="16">力、客观评价历史现象的能力、收集资料的能</tspan><tspan x="1958" dy="16">力、史论结合地陈述历史问题的能力。</tspan></text></g>
<g id="n-d3b"><rect class="b" x="1950" y="1529" width="258" height="250" rx="4"/><text class="t" x="1958" y="1546">过程与方法: 通过欣赏歌曲、图片、诗歌和联<tspan x="1958" dy="16">系实事热点等环节来讲授新课，同时本课的讲</tspan><tspan x="1958" dy="16">授过程中以台湾歌曲作为暗线衬托"和平统一"</tspan><tspan x="1958" dy="16">的主题。学生结合课本内容及其课前收集的资</tspan><tspan x="1958" dy="16">料，介绍宝岛台湾的历史沿革，自然地理情况</tspan><tspan x="1958" dy="16">，了解台湾问题的由来，激发学生对这方宝地</tspan><tspan x="1958" dy="16">的热爱与珍重。通过阅读课文，归纳党和政府</tspan><tspan x="1958" dy="16">在不同时期的对台方针政策。学生结合课本内</tspan><tspan x="1958" dy="16">容及其课下收集的资料，介绍海峡两岸交往日</tspan><tspan x="1958" dy="16">益密切的史实，认识到统一是历史发展的必然</tspan><tspan x="1958" dy="16">趋势。在教学过程中，恰当地处理教材，设计</tspan><tspan x="1958" dy="16">好每一个环节，并利用问题的层层铺垫、推进</tspan><tspan x="1958" dy="16">，把历史和现实更好地结合，通过师生间、生</tspan><tspan x="1958" dy="16">生间的互动信息交流，使学生对祖国统一的认</tspan><tspan x="1958" dy="16">识从感性上升到理性，增强对历史的感悟力。</tspan></text></g>
<g id="n-d3c"><rect class="b" x="1950" y="1805" width="258" height="154" rx="4"/><text class="t" x="1958" y="1822">情感态度与价值观: 通过对中国共产党推进祖<tspan x="1958" dy="16">国统一大业方针的归纳和分析，使学生认识到</tspan><tspan x="1958" dy="16">中国共产党始终把国家民族的利益放在首位，</tspan><tspan x="1958" dy="16">树立爱国爱党的思想，也对统一前景充满信心</tspan><tspan x="1958" dy="16">。通过对两岸交往信息的交流学习，认识到两</tspan><tspan x="1958" dy="16">岸人民血脉相连，敏感词语已过滤分子想使台</tspan><tspan x="1958" dy="16">湾从中国分离出去的企图永远不会得逞，统一</tspan><tspan x="1958" dy="16">是民心所向、大势所趋，从而也树立起对国家</tspan><tspan x="1958" dy="16">、民族的历史责任感和使命感。</tspan></text></g>
<g id="n-d4x"><rect class="b" x="1853" y="2113" width="172" height="26" rx="4"/><text class="t" x="1861" y="2130">教学重点、难点及解决方法：</text></g>
<g id="n-d4a"><rect class="b" x="2049" y="1986" width="258" height="42" rx="4"/><text class="t" x="2057" y="2003">重点：党和政府确立的和平统一祖国的大政方<tspan x="2057" dy="16">针。</tspan></text></g>
<g id="n-d4b"><rect class="b" x="2049" y="2056" width="258" height="42" rx="4"/><text class="t" x="2057" y="2073">策略：  运用表格法，辅以图片帮助学生理清<tspan x="2057" dy="16">线索，加深印象</tspan></text></g>
<g id="n-d4c"><rect class="b" x="2049" y="2128" width="258" height="42" rx="4"/><text class="t" x="2057" y="2145">难点："和平统一，一国两制"的对台基本方<tspan x="2057" dy="16">针</tspan></text></g>
<g id="n-d4d"><rect class="b" x="2049" y="2198" width="258" height="90" rx="4"/><text class="t" x="2057" y="2215">策略：  通过表格及回顾12课内容，进一步理<tspan x="2057" dy="16">解"一国两制"构想的科学性与可行性，并通过</tspan><tspan x="2057" dy="16">两岸关系在此基本方针指引下健康发展的种种</tspan><tspan x="2057" dy="16">表现，告知学生，两岸关系交流密切的主要原</tspan><tspan x="2057" dy="16">因即在于该方针的确立。。</tspan></text></g>
<g id="n-d5x"><rect class="b" x="1853" y="2316" width="98" height="26" rx="4"/><text class="t" x="1861" y="2333">教学过程预设：</text></g>
<g id="n-d5a"><rect class="b" x="1975" y="2316" width="245" height="26" rx="4"/><text class="t" x="1983" y="2333">教师活动设计学生活动设计设计意图与方法</text></g>
<g id="n-d6x"><rect class="b" x="1853" y="2485" width="74" height="26" rx="4"/><text class="t" x="1861" y="2502">导入新课：</text></g>
<g id="n-d6a"><rect class="b" x="1950" y="2371" width="248" height="26" rx="4"/><text class="t" x="1958" y="2388">投影：台湾诗人舒兰的诗歌——《乡色酒》</text></g>
<g id="n-d6b"><rect class="b" x="1950" y="2426" width="258" height="42" rx="4"/><text class="t" x="1958" y="2443">问题1：诗文流露了怎样的情感朗诵诗歌，体<tspan x="1958" dy="16">会思乡之情</tspan></text></g>
<g id="n-d6c"><rect class="b" x="1950" y="2496" width="258" height="58" rx="4"/><text class="t" x="1958" y="2513">引导回答1：哀叹两地相隔，期盼统一团圆创<tspan x="1958" dy="16">置情境，为学习本课，培养学习向往统一的情</tspan><tspan x="1958" dy="16">感。</tspan></text></g>
<g id="n-d6d"><rect class="b" x="1950" y="2583" width="258" height="58" rx="4"/><text class="t" x="1958" y="2600">简述解放战争以来台湾问题的成因，由亲人两<tspan x="1958" dy="16">岸相隔过渡到三度"陈江会"引入两岸关系的发</tspan><tspan x="1958" dy="16">展。</tspan></text></g>
<g id="n-d7x"><rect class="b" x="1853" y="3190" width="74" height="26" rx="4"/><text class="t" x="1861" y="3207">新课教学：</text></g>
<g id="n-d7a"><rect class="b" x="1950" y="2669" width="258" height="42" rx="4"/><text class="t" x="1958" y="2686">人们都说台湾与大陆是同根同源，引出台湾与<tspan x="1958" dy="16">大陆的情缘。</tspan></text></g>
<g id="n-d7b"><rect class="b" x="1950" y="2740" width="147" height="26" rx="4"/><text class="t" x="1958" y="2757">投影：割不断的两岸情缘</text></g>
<g id="n-d7c"><rect class="b" x="1950" y="2795" width="179" height="26" rx="4"/><text class="t" x="1958" y="2812">问题2：说说台湾与大陆的情缘</text></g>
<g id="n-d7d"><rect class="b" x="1950" y="2849" width="258" height="74" rx="4"/><text class="t" x="1958" y="2866">血终究浓于水，引用-所说："浅浅的海岸，深<tspan x="1958" dy="16">深的乡愁"。一湾海峡阻隔不了血脉相连的心</tspan><tspan x="1958" dy="16">，两岸人民最企盼的是什么呢?看过下面两位</tspan><tspan x="1958" dy="16">大明星大家便知道了!</tspan></text></g>
<g id="n-d7e"><rect class="b" x="1950" y="2952" width="196" height="26" rx="4"/><text class="t" x="1958" y="2969">投影：团团圆圆照片，简述其命名</text></g>
<g id="n-d7f"><rect class="b" x="1950" y="3006" width="258" height="42" rx="4"/><text class="t" x="1958" y="3023">投影：两岸同胞重逢场景，以两个子概括人们<tspan x="1958" dy="16">的共同心愿——统一。</tspan></text></g>
<g id="n-d7g"><rect class="b" x="1950" y="3077" width="258" height="42" rx="4"/><text class="t" x="1958" y="3094">过渡至推进祖国统一大业，首先学习党和政府<tspan x="1958" dy="16">的政策变化发展。</tspan></text></g>
<g id="n-d7h"><rect class="b" x="1950" y="3147" width="258" height="42" rx="4"/><text class="t" x="1958" y="3164">问题3：阅读课文65至66也，填写黑板上表格<tspan x="1958" dy="16">。(《党和政府对台湾问题的政策》)</tspan></text></g>
<g id="n-d7i"><rect class="b" x="1950" y="3218" width="258" height="42" rx="4"/><text class="t" x="1958" y="3235">问题4：配合"江八条"说说何为"适当身份互访<tspan x="1958" dy="16">?"</tspan></text></g>
<g id="n-d7j"><rect class="b" x="1950" y="3289" width="258" height="58" rx="4"/><text class="t" x="1958" y="3306">统一大业仅靠大陆努力不够，需要台湾-在正<tspan x="1958" dy="16">确的立场上积极的配合。过渡至两岸共同推进</tspan><tspan x="1958" dy="16">统一事业。</tspan></text></g>
<g id="n-d7k"><rect class="b" x="1950" y="3375" width="258" height="42" rx="4"/><text class="t" x="1958" y="3392">说明1987年、1990年、1991年、1992年主<tspan x="1958" dy="16">要两岸民间组织交流情况，强调"九二共识"</tspan></text></g>
<g id="n-d7l"><rect class="b" x="1950" y="3446" width="147" height="26" rx="4"/><text class="t" x="1958" y="3463">投影：陈水扁照片及观点</text></g>
<g id="n-d7m"><rect class="b" x="1950" y="3500" width="185" height="26" rx="4"/><text class="t" x="1958" y="3517">问题5：中国能否完成统一大业?</text></g>
<g id="n-d7n"><rect class="b" x="1950" y="3554" width="258" height="42" rx="4"/><text class="t" x="1958" y="3571">正视因为统一乃大势所趋，在"和平统一、一<tspan x="1958" dy="16">国两制"的方针的指引下，两岸交往更加密切</tspan></text></g>
<g id="n-d7o"><rect class="b" x="1950" y="3625" width="258" height="42" rx="4"/><text class="t" x="1958" y="3642">问题6：为马英九出谋划策以助两岸关系的加<tspan x="1958" dy="16">强。</tspan></text></g>
<g id="n-d7p"><rect class="b" x="1950" y="3696" width="258" height="42" rx="4"/><text class="t" x="1958" y="3713">投影两岸往来图片，突出"相互促进、互补互<tspan x="1958" dy="16">利"的经济往来局面。</tspan></text></g>
<g id="n-d8x"><rect class="b" x="1853" y="4440" width="74" height="26" rx="4"/><text class="t" x="1861" y="4457">知识回顾：</text></g>
<g id="n-e01"><rect class="b" x="1950" y="3767" width="136" height="26" rx="4"/><text class="t" x="1958" y="3784">回顾本课所学基本内容</text></g>
<g id="n-e02"><rect class="b" x="1950" y="3821" width="256" height="26" rx="4"/><text class="t" x="1958" y="3838">投影"大三通"新闻和近年来两岸政治交往图片</text></g>
<g id="n-e03"><rect class="b" x="1950" y="3876" width="147" height="26" rx="4"/><text class="t" x="1958" y="3893">活动一：我的课本我做主</text></g>
<g id="n-e04"><rect class="b" x="1950" y="3930" width="136" height="26" rx="4"/><text class="t" x="1958" y="3947">看新闻、图片续写课文</text></g>
<g id="n-e05"><rect class="b" x="1950" y="3985" width="112" height="26" rx="4"/><text class="t" x="1958" y="4002">活动二：读读想想</text></g>
<g id="n-e06"><rect class="b" x="1950" y="4039" width="258" height="58" rx="4"/><text class="t" x="1958" y="4056">芜湖港赴台货轮首航成功和随处可买的台湾食<tspan x="1958" dy="16">品说明了什么问题?帮助学生大致回顾近代台</tspan><tspan x="1958" dy="16">湾被割让和收复的过程，并引出下文。</tspan></text></g>
<g id="n-e07"><rect class="b" x="1950" y="4126" width="258" height="42" rx="4"/><text class="t" x="1958" y="4143">引导回答2：引导学生从地理、血缘、历史、<tspan x="1958" dy="16">人文和物产多方面说明两岸的"缘"</tspan></text></g>
<g id="n-e08"><rect class="b" x="1950" y="4196" width="182" height="26" rx="4"/><text class="t" x="1958" y="4213">说出两岸人民的共同愿望"团圆"</text></g>
<g id="n-e09"><rect class="b" x="1950" y="4251" width="196" height="26" rx="4"/><text class="t" x="1958" y="4268">自读填空，教师配合图文辅助填写</text></g>
<g id="n-e10"><rect class="b" x="1950" y="4305" width="233" height="26" rx="4"/><text class="t" x="1958" y="4322">让学生大胆设想，但要以八项主张为依据</text></g>
<g id="n-e11"><rect class="b" x="1950" y="4360" width="258" height="42" rx="4"/><text class="t" x="1958" y="4377">引导学生从历史趋势、方针政策、综合国力等<tspan x="1958" dy="16">各方面分析统一事业必定成功的原因</tspan></text></g>
<g id="n-e12"><rect class="b" x="1950" y="4430" width="258" height="42" rx="4"/><text class="t" x="1958" y="4447">充分展开想想，为两岸交流增加新方法，但要<tspan x="1958" dy="16">铭记两岸交往的原则。</tspan></text></g>
<g id="n-e13"><rect class="b" x="1950" y="4502" width="124" height="26" rx="4"/><text class="t" x="1958" y="4519">回顾旧知，巩固新知</text></g>
<g id="n-e14"><rect class="b" x="1950" y="4556" width="258" height="42" rx="4"/><text class="t" x="1958" y="4573">调动学生的积极性，进行拓展性学习，大胆尝<tspan x="1958" dy="16">试编写课文，并鼓励其上台朗读。</tspan></text></g>
<g id="n-e15"><rect class="b" x="1950" y="4627" width="258" height="58" rx="4"/><text class="t" x="1958" y="4644">联系乡土知识，联系身边小事，引导学生大胆<tspan x="1958" dy="16">联系课本知识。回顾旧知，说明各方面渊源的</tspan><tspan x="1958" dy="16">同时进行学科的融合。</tspan></text></g>
<g id="n-e16"><rect class="b" x="1950" y="4713" width="258" height="26" rx="4"/><text class="t" x="1958" y="4730">营造轻松愉快的气氛，调动学生的学习热情。</text></g>
<g id="n-e17"><rect class="b" x="1950" y="4768" width="258" height="42" rx="4"/><text class="t" x="1958" y="4785">激发学生的创新精神，大胆运用新知识解释身<tspan x="1958" dy="16">边的 问题。</tspan></text></g>
<g id="n-e18"><rect class="b" x="1950" y="4839" width="124" height="26" rx="4"/><text class="t" x="1958" y="4856">图文并茂，加深印象</text></g>
<g id="n-e19"><rect class="b" x="1950" y="4895" width="258" height="42" rx="4"/><text class="t" x="1958" y="4912">培养学生分析判断的能力，并进一步认识到统<tspan x="1958" dy="16">一事业定会成功，应为之不懈努力。</tspan></text></g>
<g id="n-e20"><rect class="b" x="1950" y="4964" width="258" height="42" rx="4"/><text class="t" x="1958" y="4981">调动学生积极性，参与意识，培养社会责任感<tspan x="1958" dy="16">。</tspan></text></g>
<g id="n-e21"><rect class="b" x="1950" y="5035" width="258" height="42" rx="4"/><text class="t" x="1958" y="5052">培养学生的创造性，同时训练其基本学科能力<tspan x="1958" dy="16">。</tspan></text></g>
<g id="n-e22"><rect class="b" x="1950" y="5105" width="258" height="42" rx="4"/><text class="t" x="1958" y="5122">培养学生热爱家乡的情感，同时感受到历史知<tspan x="1958" dy="16">识无处不在。</tspan></text></g>

<!-- RIGHT 4 -->
<g id="n-r4"><rect class="b" x="1641" y="6154" width="188" height="36" rx="18"/><text class="t h" x="1659" y="6178">高中历史教案怎么写4</text></g>
<g id="n-m1"><rect class="b" x="1853" y="5176" width="98" height="26" rx="4"/><text class="t" x="1861" y="5193">抗日战争的爆发</text></g>
<g id="n-m2"><rect class="b" x="1853" y="5230" width="258" height="74" rx="4"/><text class="t" x="1861" y="5247">教学目的: 1.使学生知道日本帝国主义先侵占<tspan x="1861" dy="16">东北，又侵略华北，使中华民族处于生死关头</tspan><tspan x="1861" dy="16">。中国共产党要求停止内战、一致对外，全国</tspan><tspan x="1861" dy="16">掀起抗日救亡高潮。</tspan></text></g>
<g id="n-m3"><rect class="b" x="1853" y="5333" width="258" height="74" rx="4"/><text class="t" x="1861" y="5350">2.使学生知道张学良、杨虎城为联共抗日发动<tspan x="1861" dy="16">西安事变，扣留蒋介石。中国共产党以全民族</tspan><tspan x="1861" dy="16">利益出发，促成西安事变和平解决，抗日民族</tspan><tspan x="1861" dy="16">统一战线初步形成。</tspan></text></g>
<g id="n-m4"><rect class="b" x="1853" y="5615" width="258" height="42" rx="4"/><text class="t" x="1861" y="5632">3.使学生知道卢沟桥事变是日本帝国主义全面<tspan x="1861" dy="16">侵华的开始，也是我国全民族抗战的开始。</tspan></text></g>
<g id="n-m4a"><rect class="b" x="2135" y="5435" width="154" height="26" rx="4"/><text class="t" x="2143" y="5452">教学重点: 西安事变的原因</text></g>
<g id="n-m4b"><rect class="b" x="2135" y="5490" width="110" height="26" rx="4"/><text class="t" x="2143" y="5507">卢沟桥事变的经过</text></g>
<g id="n-m4c"><rect class="b" x="2135" y="5545" width="207" height="26" rx="4"/><text class="t" x="2143" y="5562">教学难点：抗日民族统一战线的形成</text></g>
<g id="n-m4d"><rect class="b" x="2135" y="5599" width="99" height="26" rx="4"/><text class="t" x="2143" y="5616">教学课时: 1课时</text></g>
<g id="n-m4e"><rect class="b" x="2135" y="5654" width="67" height="26" rx="4"/><text class="t" x="2143" y="5671">教学过程：</text></g>
<g id="n-m4f"><rect class="b" x="2135" y="5732" width="89" height="26" rx="4"/><text class="t" x="2143" y="5749">一、导入 新课</text></g>
<g id="n-m4f1"><rect class="b" x="2248" y="5709" width="258" height="74" rx="4"/><text class="t" x="2256" y="5726">同学们知道吗?在离我们学校不远的卢沟桥有<tspan x="2256" dy="16">一座抗日战争纪念馆，在那里陈列展出着许多</tspan><tspan x="2256" dy="16">的日军侵华的罪证，马么我们今天就以起来学</tspan><tspan x="2256" dy="16">习第六课抗日战争的爆发。</tspan></text></g>
<g id="n-m4g"><rect class="b" x="2135" y="5811" width="89" height="26" rx="4"/><text class="t" x="2143" y="5828">二、讲授新课</text></g>
<g id="n-m4g1"><rect class="b" x="2244" y="5811" width="158" height="26" rx="4"/><text class="t" x="2252" y="5828">(一) "全国抗日救亡高潮"。</text></g>
<g id="n-m5"><rect class="b" x="1853" y="5886" width="258" height="42" rx="4"/><text class="t" x="1861" y="5903">1.学生阅读课文并回答：你从哪里看出日本帝<tspan x="1861" dy="16">国主义对中国怀有野心?</tspan></text></g>
<g id="n-m5a"><rect class="b" x="2135" y="5865" width="259" height="26" rx="4"/><text class="t" x="2143" y="5882">日本侵略军是什么时间向中国东北军发动进攻</text></g>
<g id="n-m5b"><rect class="b" x="2135" y="5921" width="101" height="26" rx="4"/><text class="t" x="2143" y="5938">板书:九一八事变</text></g>
<g id="n-m6"><rect class="b" x="1853" y="5975" width="258" height="42" rx="4"/><text class="t" x="1861" y="5992">2、想一想：日本侵略军为什么能占领东北三<tspan x="1861" dy="16">省并侵占华北大片土地?</tspan></text></g>
<g id="n-m7"><rect class="b" x="1853" y="6366" width="258" height="42" rx="4"/><text class="t" x="1861" y="6383">3.看"读一读"内容，体会东北同胞家乡沦亡的<tspan x="1861" dy="16">悲愤心情。</tspan></text></g>
<g id="n-m7a"><rect class="b" x="2135" y="6046" width="215" height="26" rx="4"/><text class="t" x="2143" y="6063">沦陷后的东北人民已经到了什么地步?</text></g>
<g id="n-m7b"><rect class="b" x="2135" y="6100" width="259" height="42" rx="4"/><text class="t" x="2143" y="6117">"日本继续侵略下去，中华民族到了什么关头?<tspan x="2143" dy="16">"</tspan></text></g>
<g id="n-m7c"><rect class="b" x="2135" y="6170" width="259" height="42" rx="4"/><text class="t" x="2143" y="6187">在中华民族生死危亡的关头，中国共产党提出<tspan x="2143" dy="16">了什么主张?</tspan></text></g>
<g id="n-m7d"><rect class="b" x="2135" y="6241" width="259" height="26" rx="4"/><text class="t" x="2143" y="6258">活动：比较国民党和共产党的两种不同的主张</text></g>
<g id="n-m7e"><rect class="b" x="2135" y="6295" width="259" height="42" rx="4"/><text class="t" x="2143" y="6312">在全国人民要求抗日的高潮中，蒋介石在干什<tspan x="2143" dy="16">么?</tspan></text></g>
<g id="n-m7f"><rect class="b" x="2135" y="6366" width="218" height="26" rx="4"/><text class="t" x="2143" y="6383">讨论："蒋介石的做法错不错?为什么?"</text></g>
<g id="n-m7g"><rect class="b" x="2135" y="6420" width="259" height="42" rx="4"/><text class="t" x="2143" y="6437">张学良、杨虎城为什么要发动西安事变?西安<tspan x="2143" dy="16">事变发生在什么时间?</tspan></text></g>
<g id="n-m7h"><rect class="b" x="2135" y="6491" width="91" height="26" rx="4"/><text class="t" x="2143" y="6508">板书: 西安事变</text></g>
<g id="n-m7i"><rect class="b" x="2135" y="6546" width="191" height="26" rx="4"/><text class="t" x="2143" y="6563">讨论：为什么和平解决西安事变?</text></g>
<g id="n-m7j"><rect class="b" x="2135" y="6601" width="259" height="74" rx="4"/><text class="t" x="2143" y="6618">教师小结：因此中国共产党从全民族的利益出<tspan x="2143" dy="16">发，蒋介石被迫接受停止内战，同意联共抗日</tspan><tspan x="2143" dy="16">的条件，西安事变和平解决，抗日民族统一战</tspan><tspan x="2143" dy="16">线初步形成。</tspan></text></g>
<g id="n-m7k"><rect class="b" x="2135" y="6702" width="109" height="26" rx="4"/><text class="t" x="2143" y="6719">(二) "卢沟桥事变"</text></g>
<g id="n-m8"><rect class="b" x="1853" y="6844" width="92" height="26" rx="4"/><text class="t" x="1861" y="6861">1、阅读课文：</text></g>
<g id="n-m8a"><rect class="b" x="1969" y="6758" width="252" height="26" rx="4"/><text class="t" x="1977" y="6775">从哪里可看出日本帝国主义在加紧侵略我国?</text></g>
<g id="n-m8b"><rect class="b" x="1969" y="6812" width="258" height="26" rx="4"/><text class="t" x="1977" y="6829">日军为什么要进攻卢沟桥?这发生在什么时间?</text></g>
<g id="n-m8c"><rect class="b" x="1969" y="6867" width="185" height="26" rx="4"/><text class="t" x="1977" y="6884">板书: 卢沟桥事变1937年7月7日</text></g>
<g id="n-m8d"><rect class="b" x="1969" y="6922" width="258" height="42" rx="4"/><text class="t" x="1977" y="6939">讨论：为什么说中国守军二十九军官兵是在忍<tspan x="1977" dy="16">无可忍的情况下奋起还击的?</tspan></text></g>
<g id="n-m9"><rect class="b" x="1853" y="6992" width="258" height="58" rx="4"/><text class="t" x="1861" y="7009">2.卢沟桥事变以后，日本帝国主义发动了大规<tspan x="1861" dy="16">模的侵华战争，我国开始了全民族的抗日战争</tspan><tspan x="1861" dy="16">，抗日战争从此开始。</tspan></text></g>
<g id="n-m9a"><rect class="b" x="2135" y="7008" width="73" height="26" rx="4"/><text class="t" x="2143" y="7025">三、小结：</text></g>
<g id="n-m10"><rect class="b" x="1853" y="7078" width="231" height="26" rx="4"/><text class="t" x="1861" y="7095">1.西安事变为什么会发生?是怎样解决的?</text></g>
<g id="n-m11"><rect class="b" x="1853" y="7133" width="258" height="42" rx="4"/><text class="t" x="1861" y="7150">2.为什么说卢沟桥事变是我国抗日战争的开始<tspan x="1861" dy="16">?</tspan></text></g>

<!-- RELATED -->
<g id="n-rel"><rect class="b" x="1641" y="7446" width="258" height="36" rx="18"/><text class="t h" x="1659" y="7470">高中历史教案怎么写相关文章：</text></g>
<g id="n-f01"><rect class="b" x="1923" y="7204" width="198" height="26" rx="4"/><text class="t" x="1931" y="7221">★ 人教版高中历史教案怎么写范文</text></g>
<g id="n-f02"><rect class="b" x="1923" y="7259" width="161" height="26" rx="4"/><text class="t" x="1931" y="7276">★ 怎么写高中历史教案范文</text></g>
<g id="n-f03"><rect class="b" x="1923" y="7314" width="143" height="26" rx="4"/><text class="t" x="1931" y="7331">★ 优秀高中历史教案5篇</text></g>
<g id="n-f04"><rect class="b" x="1923" y="7368" width="154" height="26" rx="4"/><text class="t" x="1931" y="7385">★ 新高中历史教案范文5篇</text></g>
<g id="n-f05"><rect class="b" x="1923" y="7423" width="161" height="26" rx="4"/><text class="t" x="1931" y="7440">★ 高中历史教案鲁教版范文</text></g>
<g id="n-f06"><rect class="b" x="1923" y="7478" width="198" height="26" rx="4"/><text class="t" x="1931" y="7495">★ 新课标人教版高中历史教案范文</text></g>
<g id="n-f07"><rect class="b" x="1923" y="7532" width="161" height="26" rx="4"/><text class="t" x="1931" y="7549">★ 部编版高中历史教案范文</text></g>
<g id="n-f08"><rect class="b" x="1923" y="7587" width="161" height="26" rx="4"/><text class="t" x="1931" y="7604">★ 统编版高一历史教案范文</text></g>
<g id="n-f09"><rect class="b" x="1923" y="7641" width="161" height="26" rx="4"/><text class="t" x="1931" y="7658">★ 高一历史教案人教版范文</text></g>
<g id="n-f10"><rect class="b" x="1923" y="7696" width="154" height="26" rx="4"/><text class="t" x="1931" y="7713">★ 新课标高中历史教案5篇</text></g>
</g>
</svg>
